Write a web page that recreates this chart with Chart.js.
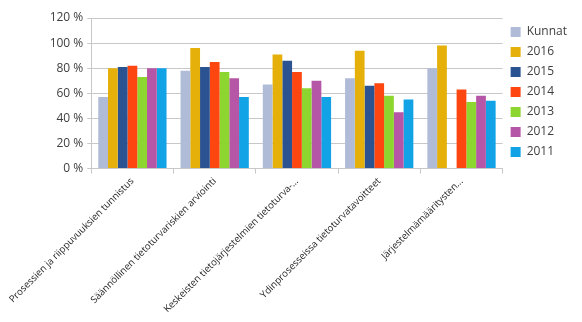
<!DOCTYPE html>
<html>
<head>
<meta charset="utf-8">
<script src="https://cdn.jsdelivr.net/npm/chart.js@4"></script>
<style>
  html, body { margin: 0; padding: 0; background: #fff; }
  #wrap { width: 582px; height: 322px; position: relative; }
</style>
</head>
<body>
<div id="wrap"><canvas id="c"></canvas></div>
<script>
// categories (already shortened as in the report)
const categories = [
  'Prosessien ja riippuvuuksien tunnistus',
  'Säännöllinen tietoturvariskien arviointi',
  'Keskeisten tietojärjestelmien tietoturva-...',
  'Ydinprosesseissa tietoturvatavoitteet',
  'Järjestelmämääritysten...'
];

// shares in percent
const kunnat = [57, 78, 67, 72, 80];
const y2016  = [80, 96, 91, 94, 98];
const y2015  = [81, 81, 86, 66, null];
const y2014  = [82, 85, 77, 68, 63];
const y2013  = [73, 77, 64, 58, 53];
const y2012  = [80, 72, 70, 45, 58];
const y2011  = [80, 57, 57, 55, 54];

const seriesNames  = ['Kunnat', '2016', '2015', '2014', '2013', '2012', '2011'];
const seriesValues = [kunnat, y2016, y2015, y2014, y2013, y2012, y2011];
const seriesColors = ['#b0bcd7', '#e6b00b', '#2b5391', '#fd4610', '#8dd52f', '#b556a6', '#11a3e6'];

const yTicks = [0, 20, 40, 60, 80, 100, 120];

const ctx = document.getElementById('c').getContext('2d');

const chart = new Chart(ctx, {
    type: 'bar',
    data: {
        labels: categories,
        datasets: seriesNames.map((name, i) => ({
            label: name,
            data: seriesValues[i],
            backgroundColor: seriesColors[i],
            borderWidth: 0,
            barPercentage: 1.0,
            categoryPercentage: 0.83
        }))
    },
    options: {
        responsive: true,
        maintainAspectRatio: false,
        animation: false,
        layout: {
            padding: { top: 18, right: 5, bottom: 5, left: 8 }
        },
        plugins: {
            tooltip: { enabled: false },
            legend: {
                position: 'right',
                align: 'start',
                labels: {
                    boxWidth: 10,
                    boxHeight: 10,
                    padding: 8,
                    color: '#404040',
                    font: { family: 'Open Sans', size: 12 }
                }
            }
        },
        scales: {
            x: {
                grid: {
                    offset: true,
                    drawOnChartArea: false,
                    tickLength: 5,
                    color: '#c8c8c8'
                },
                border: { color: '#c8c8c8' },
                ticks: {
                    minRotation: 45,
                    maxRotation: 45,
                    autoSkip: false,
                    padding: 2,
                    color: '#262626',
                    font: { family: 'Open Sans', size: 9.6 }
                }
            },
            y: {
                min: 0,
                max: 120,
                afterBuildTicks: axis => {
                    axis.ticks = yTicks.map(v => ({ value: v }));
                },
                afterFit: axis => {
                    axis.width = 82;
                },
                grid: {
                    color: '#c8c8c8',
                    tickLength: 4
                },
                border: { color: '#c8c8c8' },
                ticks: {
                    color: '#404040',
                    padding: 4,
                    font: { family: 'Open Sans', size: 12 },
                    callback: v => v + ' %'
                }
            }
        }
    }
});
</script>
</body>
</html>
